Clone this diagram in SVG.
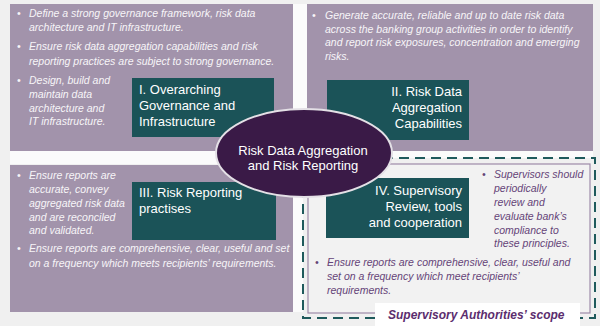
<svg xmlns="http://www.w3.org/2000/svg" width="600" height="326" viewBox="0 0 600 326">
  <style>
    .panel { fill: #a293ab; }
    .box { fill: #1b5358; }
    .boxtxt { font-family: "Liberation Sans", Arial, sans-serif; font-size: 13px; fill: #ffffff; }
    .bul { font-family: "Liberation Sans", Arial, sans-serif; font-size: 10.5px; font-style: italic; fill: #f7f5f8; }
    .bulp { font-family: "Liberation Sans", Arial, sans-serif; font-size: 10.5px; font-style: italic; fill: #654478; }
    .ctr { font-family: "Liberation Sans", Arial, sans-serif; font-size: 13px; fill: #ffffff; text-anchor: middle; }
    .scope { font-family: "Liberation Sans", Arial, sans-serif; font-size: 12px; font-weight: bold; font-style: italic; fill: #5b2d6e; }
  </style>

  <rect x="0" y="0" width="600" height="326" fill="#f0f0f0"/>
  <!-- light gutters between quadrants -->
  <rect x="293" y="4" width="14" height="308" fill="#fbfbfb"/>
  <rect x="10" y="151" width="583" height="13" fill="#fbfbfb"/>

  <!-- Quadrant I -->
  <g id="quadrant-governance">
    <rect class="panel" x="10" y="4" width="283" height="147"/>
    <text class="bul" x="17" y="17">•</text>
    <text class="bul" x="29" y="17">Define a strong governance framework, risk data</text>
    <text class="bul" x="29" y="31">architecture and IT infrastructure.</text>
    <text class="bul" x="17" y="50">•</text>
    <text class="bul" x="29" y="50">Ensure risk data aggregation capabilities and risk</text>
    <text class="bul" x="29" y="65">reporting practices are subject to strong governance.</text>
    <text class="bul" x="17" y="84">•</text>
    <text class="bul" x="29" y="84">Design, build and</text>
    <text class="bul" x="29" y="98">maintain data</text>
    <text class="bul" x="29" y="112">architecture and</text>
    <text class="bul" x="29" y="125">IT infrastructure.</text>
    <rect class="box" x="132" y="78" width="142" height="59"/>
    <text class="boxtxt" x="139" y="94">I. Overarching</text>
    <text class="boxtxt" x="139" y="110">Governance and</text>
    <text class="boxtxt" x="139" y="126">Infrastructure</text>
  </g>

  <!-- Quadrant II -->
  <g id="quadrant-capabilities">
    <rect class="panel" x="307" y="4" width="286" height="147"/>
    <text class="bul" x="312" y="19">•</text>
    <text class="bul" x="325" y="19">Generate accurate, reliable  and up to date risk data</text>
    <text class="bul" x="325" y="33">across the banking group activities in order to identify</text>
    <text class="bul" x="325" y="46">and report risk exposures, concentration and emerging</text>
    <text class="bul" x="325" y="60">risks.</text>
    <rect class="box" x="327" y="80" width="142" height="60"/>
    <text class="boxtxt" x="462" y="96" text-anchor="end">II. Risk Data</text>
    <text class="boxtxt" x="462" y="112" text-anchor="end">Aggregation</text>
    <text class="boxtxt" x="462" y="128" text-anchor="end">Capabilities</text>
  </g>

  <!-- Quadrant III -->
  <g id="quadrant-reporting">
    <rect class="panel" x="10" y="165" width="283" height="147"/>
    <text class="bul" x="17" y="179">•</text>
    <text class="bul" x="29" y="179">Ensure reports are</text>
    <text class="bul" x="29" y="193">accurate, convey</text>
    <text class="bul" x="29" y="207">aggregated risk data</text>
    <text class="bul" x="29" y="221">and are reconciled</text>
    <text class="bul" x="29" y="234">and validated.</text>
    <text class="bul" x="17" y="252">•</text>
    <text class="bul" x="29" y="252">Ensure reports are comprehensive, clear, useful and set</text>
    <text class="bul" x="29" y="267">on a frequency which meets recipients’ requirements.</text>
    <rect class="box" x="132" y="182" width="144" height="58"/>
    <text class="boxtxt" x="139" y="197">III. Risk Reporting</text>
    <text class="boxtxt" x="139" y="213">practises</text>
  </g>

  <!-- Quadrant IV: supervisory scope -->
  <g id="quadrant-supervisory">
    <rect x="303" y="158" width="292" height="160" fill="#f0f0f0"/>
    <rect x="308" y="164" width="282" height="149" fill="#f2f2f2" stroke="#9d8aa8" stroke-width="1.2"/>
    <rect x="303" y="158" width="292" height="160" fill="none" stroke="#1f5a5c" stroke-width="2" stroke-dasharray="10,6"/>
    <rect class="box" x="326" y="178" width="143" height="60"/>
    <text class="boxtxt" x="462" y="195" text-anchor="end">IV. Supervisory</text>
    <text class="boxtxt" x="462" y="211" text-anchor="end">Review, tools</text>
    <text class="boxtxt" x="462" y="227" text-anchor="end">and cooperation</text>
    <text class="bulp" x="482" y="178">•</text>
    <text class="bulp" x="494" y="178">Supervisors should</text>
    <text class="bulp" x="494" y="192">periodically</text>
    <text class="bulp" x="494" y="206">review and</text>
    <text class="bulp" x="494" y="220">evaluate bank’s</text>
    <text class="bulp" x="494" y="234">compliance to</text>
    <text class="bulp" x="494" y="247">these principles.</text>
    <text class="bulp" x="315" y="266">•</text>
    <text class="bulp" x="327" y="266">Ensure reports are comprehensive, clear, useful and</text>
    <text class="bulp" x="327" y="280">set on a frequency which meet recipients’</text>
    <text class="bulp" x="327" y="294">requirements.</text>
    <rect x="375" y="303" width="205" height="23" fill="#ffffff"/>
    <text class="scope" x="388" y="319">Supervisory Authorities’ scope</text>
  </g>

  <!-- Central hub -->
  <g id="hub">
    <ellipse cx="304" cy="153" rx="88" ry="44" fill="#3a1a47" stroke="#e4e0e6" stroke-width="2"/>
    <text class="ctr" x="303" y="155">Risk Data Aggregation</text>
    <text class="ctr" x="303" y="170">and Risk Reporting</text>
  </g>
</svg>
